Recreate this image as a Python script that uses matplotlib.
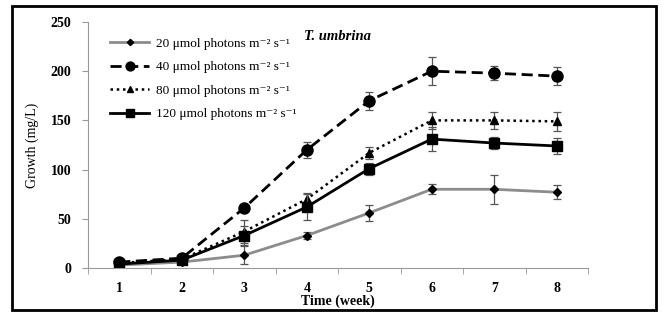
import numpy as np
import matplotlib.pyplot as plt
from matplotlib.patches import Rectangle

### Data
weeks = [1, 2, 3, 4, 5, 6, 7, 8]
labels = ['20 \u03bcmol photons m\u207b\u00b2 s\u207b\u00b9',
          '40 \u03bcmol photons m\u207b\u00b2 s\u207b\u00b9',
          '80 \u03bcmol photons m\u207b\u00b2 s\u207b\u00b9',
          '120 \u03bcmol photons m\u207b\u00b2 s\u207b\u00b9']

g20 = [3, 6, 13, 33, 56, 80, 80, 77]
e20 = [1, 1, 9, 4, 8, 5, 15, 7]
g40 = [6, 10, 61, 120, 170, 200, 198, 195]
e40 = [1, 1, 3, 8, 9, 14, 7, 9]
g80 = [5, 9, 37, 70, 117, 150, 150, 149]
e80 = [1, 1, 12, 6, 6, 9, 9, 10]
g120 = [4, 8, 33, 62, 101, 131, 127, 124]
e120 = [1, 1, 10, 13, 6, 12, 6, 8]

serif = ['Liberation Serif', 'DejaVu Serif']
plt.rcParams['font.family'] = serif

fig = plt.figure(figsize=(6.62, 3.16), dpi=100)
ax = fig.add_axes([88/662, 1-268/316, 500/662, 246/316])

# outer frame
fig.patches.append(Rectangle((12/662, 6/316), 644/662, 304/316, transform=fig.transFigure,
                             fill=False, edgecolor='black', linewidth=2))

series = [
    (g20, e20, dict(color='#8c8c8c', lw=2, marker='D', ms=4, mfc='black', mec='black')),
    (g40, e40, dict(color='black', lw=2, ls=(0, (4, 2)), marker='o', ms=8)),
    (g80, e80, dict(color='black', lw=1.8, ls=(0, (1, 1.5)), marker='^', ms=6)),
    (g120, e120, dict(color='black', lw=2, marker='s', ms=7)),
]
handles = []
for (vals, errs, sty), lab in zip(series, labels):
    ax.errorbar(weeks, vals, yerr=errs, fmt='none', ecolor='#555555',
                capsize=3, elinewidth=0.9, capthick=0.9)
    h, = ax.plot(weeks, vals, label=lab, **sty)
    handles.append(h)

ax.set_xlim(0.5, 8.5)
ax.set_ylim(0, 250)
ax.set_xticks(weeks)
ax.set_xticks(np.arange(0.5, 8.6, 1), minor=True)
ax.tick_params(axis='x', which='major', length=0, pad=10)
ax.tick_params(axis='x', which='minor', length=4, color='#999999', direction='out')
ax.set_yticks([0, 50, 100, 150, 200, 250])
ax.tick_params(axis='y', length=4, color='#999999', direction='out', pad=8)
for lab in ax.get_xticklabels() + ax.get_yticklabels():
    lab.set_fontweight('bold')
    lab.set_fontsize(10)

for s in ['top', 'right']:
    ax.spines[s].set_visible(False)
for s in ['left', 'bottom']:
    ax.spines[s].set_color('#999999')

ax.set_xlabel('Time (week)', fontsize=10, fontweight='bold', labelpad=0)
ax.set_ylabel('Growth (mg/L)', fontsize=10, labelpad=8)
ax.text(0.5, 0.94, 'T. umbrina', transform=ax.transAxes, ha='center', va='center',
        fontsize=10.5, fontweight='bold', fontstyle='italic')

leg = ax.legend(handles=handles, loc='upper left', bbox_to_anchor=(0.02, 0.985), frameon=False,
                fontsize=9.5, handlelength=3.0, labelspacing=0.85, handletextpad=0.5,
                markerscale=0.8)

fig.savefig('out.png', dpi=100)
